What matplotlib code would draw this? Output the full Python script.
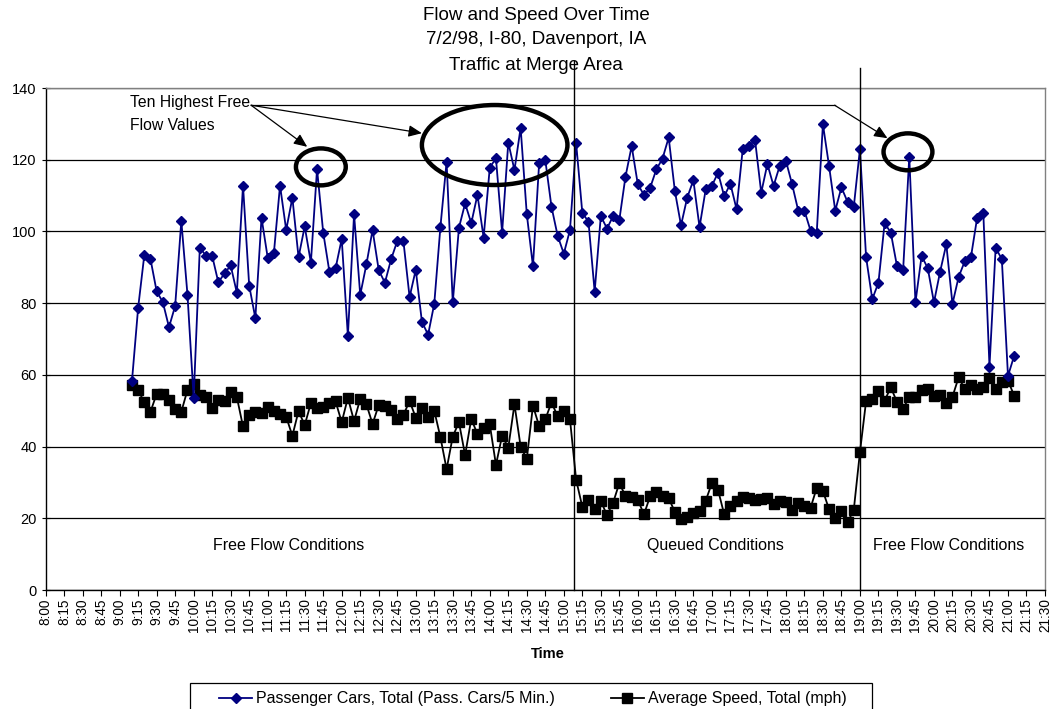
import matplotlib
matplotlib.use("Agg")
import matplotlib.pyplot as plt
from matplotlib.patches import Ellipse, Rectangle
import numpy as np

plt.rcParams['font.family'] = ['Liberation Sans', 'DejaVu Sans']

# ---- data ----
start_time = "9:10"
interval_min = 5

passenger_cars = [58.3, 78.7, 93.4, 92.3, 83.3, 80.3, 73.3, 79.2, 102.9, 82.3,
                  53.5, 95.5, 93.2, 93.2, 85.8, 88.3, 90.5, 82.9, 112.8, 84.9,
                  75.8, 103.8, 92.7, 93.9, 112.8, 100.4, 109.4, 92.8, 101.4, 91.3,
                  117.4, 99.7, 88.8, 89.7, 97.9, 70.8, 104.8, 82.3, 90.8, 100.4,
                  89.2, 85.7, 92.2, 97.3, 97.3, 81.7, 89.3, 74.8, 71.2, 79.8,
                  101.3, 119.4, 80.2, 101.0, 107.8, 102.3, 110.2, 98.3, 117.8, 120.4,
                  99.7, 124.8, 117.1, 128.9, 104.8, 90.3, 119.0, 119.9, 106.9, 98.8,
                  93.8, 100.4, 124.6, 105.2, 102.7, 83.2, 104.3, 100.8, 104.3, 103.2,
                  115.3, 123.8, 113.1, 110.2, 112.2, 117.3, 120.3, 126.2, 111.3, 101.7,
                  109.4, 114.3, 101.2, 111.7, 112.7, 116.4, 109.8, 113.3, 106.2, 122.9,
                  123.8, 125.5, 110.8, 118.8, 112.7, 118.3, 119.7, 113.2, 105.8, 105.8,
                  100.2, 99.7, 129.9, 118.2, 105.8, 112.3, 108.2, 106.8, 122.9, 92.8,
                  81.1, 85.7, 102.3, 99.7, 90.4, 89.2, 120.8, 80.2, 93.2, 89.7,
                  80.2, 88.8, 96.4, 79.8, 87.3, 91.7, 92.9, 103.8, 105.2, 62.3,
                  95.4, 92.3, 59.7, 65.3]

avg_speed = [57.2, 55.8, 52.3, 49.7, 54.7, 54.7, 53.0, 50.5, 49.7, 55.8,
             57.4, 54.4, 53.7, 50.8, 53.0, 52.8, 55.1, 53.8, 45.6, 48.8,
             49.7, 49.5, 50.9, 49.9, 49.1, 48.3, 43.0, 49.9, 46.0, 52.1,
             50.8, 51.1, 52.1, 52.6, 46.8, 53.6, 47.1, 53.3, 51.8, 46.3,
             51.6, 51.3, 50.2, 47.7, 48.8, 52.7, 48.1, 50.7, 48.3, 50.0,
             42.6, 33.7, 42.8, 46.8, 37.6, 47.7, 43.5, 45.3, 46.2, 34.9,
             43.0, 39.7, 51.8, 40.0, 36.5, 51.4, 45.7, 47.6, 52.3, 48.5,
             50.0, 47.6, 30.7, 23.2, 25.1, 22.5, 24.8, 20.9, 24.4, 29.8,
             26.2, 25.8, 25.1, 21.1, 26.2, 27.3, 26.2, 25.6, 21.8, 19.7,
             20.4, 21.4, 22.1, 24.9, 29.8, 27.9, 21.1, 23.4, 24.8, 26.0,
             25.6, 25.1, 25.5, 25.7, 24.0, 24.9, 24.6, 22.3, 24.2, 23.5,
             22.9, 28.5, 27.6, 22.5, 20.0, 22.0, 18.9, 22.3, 38.4, 52.7,
             53.4, 55.6, 52.8, 56.5, 52.5, 50.5, 53.9, 53.9, 55.8, 56.1,
             54.1, 54.4, 52.2, 53.9, 59.3, 56.0, 57.2, 56.1, 56.7, 59.0,
             56.1, 58.1, 58.4, 54.2]

tick_labels = ["8:00", "8:15", "8:30", "8:45", "9:00", "9:15", "9:30", "9:45",
               "10:00", "10:15", "10:30", "10:45", "11:00", "11:15", "11:30", "11:45",
               "12:00", "12:15", "12:30", "12:45", "13:00", "13:15", "13:30", "13:45",
               "14:00", "14:15", "14:30", "14:45", "15:00", "15:15", "15:30", "15:45",
               "16:00", "16:15", "16:30", "16:45", "17:00", "17:15", "17:30", "17:45",
               "18:00", "18:15", "18:30", "18:45", "19:00", "19:15", "19:30", "19:45",
               "20:00", "20:15", "20:30", "20:45", "21:00", "21:15", "21:30"]

region_labels = ["Free Flow Conditions", "Queued Conditions", "Free Flow Conditions"]
region_x = ["11:17", "17:03", "20:12"]
boundaries = ["15:08", "19:00"]

def to_hours(s):
    h, m = s.split(":")
    return int(h) + int(m) / 60.0

t0 = to_hours(start_time)
x = t0 + np.arange(len(passenger_cars)) * interval_min / 60.0
tick_pos = [to_hours(s) for s in tick_labels]

# ---- figure ----
W, H = 1052, 709
fig = plt.figure(figsize=(W / 100, H / 100), dpi=100)
ax = fig.add_axes([45.6 / W, 1 - 590 / H, (1045 - 45.6) / W, (590 - 88) / H])

navy = "#000080"
ax.plot(x, passenger_cars, color=navy, lw=1.3, marker='D', ms=5.5,
        mec=navy, mfc=navy, label="Passenger Cars, Total (Pass. Cars/5 Min.)", zorder=4)
ax.plot(x, avg_speed, color="black", lw=1.3, marker='s', ms=6.5,
        mec="black", mfc="black", label="Average Speed, Total (mph)", zorder=3)

ax.set_xlim(tick_pos[0], tick_pos[-1])
ax.set_ylim(0, 140)
ax.set_yticks(range(0, 141, 20))
ax.set_xticks(tick_pos)
ax.set_xticklabels(tick_labels, rotation=90, fontsize=9.8)
ax.tick_params(axis='y', labelsize=10.5, direction='inout', length=6, width=0.8)
ax.tick_params(axis='x', direction='out', length=4, width=0.8, pad=2)
ax.yaxis.grid(True, color="black", lw=0.9)
ax.set_axisbelow(True)
for s in ax.spines.values():
    s.set_color("#808080")
    s.set_linewidth(1.0)
ax.spines['left'].set_color("black")
ax.spines['bottom'].set_color("black")

# boundaries
for b, top in zip(boundaries, [147.5, 145.6]):
    bx = to_hours(b)
    ax.plot([bx, bx], [0, top], color="black", lw=1.0, clip_on=False, zorder=5)

# region labels
for lbl, rx in zip(region_labels, region_x):
    ax.text(to_hours(rx), 12.3, lbl, ha='center', va='center', fontsize=11.5)

# annotation
ax.text(9.137, 138.0, "Ten Highest Free\nFlow Values", ha='left', va='top',
        fontsize=11.3, linespacing=1.63)
src = (10.776, 135.2)
arrow_kw = dict(arrowstyle="-|>,head_length=0.8,head_width=0.35", color="black",
                lw=0.9, shrinkA=0, shrinkB=0)
ax.annotate("", xy=(11.534, 123.6), xytext=src, arrowprops=arrow_kw)
ax.annotate("", xy=(13.083, 127.4), xytext=src, arrowprops=arrow_kw)
ax.plot([src[0], 18.658], [src[1], 135.2], color="black", lw=0.9)
ax.annotate("", xy=(19.372, 126.0), xytext=(18.658, 135.2), arrowprops=arrow_kw)

for (cx, cy, w, h) in [(11.718, 118.0, 0.673, 10.3), (14.066, 124.1, 1.966, 22.3),
                       (19.649, 122.2, 0.66, 10.3)]:
    ax.add_patch(Ellipse((cx, cy), w, h, fill=False, ec="black", lw=3.2, zorder=6))

# titles
for txt, yp in zip(["Flow and Speed Over Time", "7/2/98, I-80, Davenport, IA",
                    "Traffic at Merge Area"], [15, 40, 65]):
    fig.text(536 / W, 1 - yp / H, txt, ha='center', va='center', fontsize=13.5)

fig.text(548 / W, 1 - 654 / H, "Time", ha='center', va='center', fontsize=10.5,
         fontweight='bold')

# legend with a hand-drawn frame (bottom edge falls outside the image)
fig.patches.append(Rectangle((190 / W, 1 - 712 / H), 682 / W, 29 / H,
                             transform=fig.transFigure, fill=False,
                             ec="black", lw=0.9))
leg_fs = 11.5
fpx = leg_fs * 100 / 72
leg = fig.legend(loc='center left', bbox_to_anchor=(219 / W, 1 - 699 / H),
                 ncol=2, fontsize=leg_fs, frameon=False,
                 handlelength=33 / fpx, handletextpad=4 / fpx,
                 columnspacing=56 / fpx, borderpad=0, borderaxespad=0)

fig.savefig("out.png", dpi=100)
